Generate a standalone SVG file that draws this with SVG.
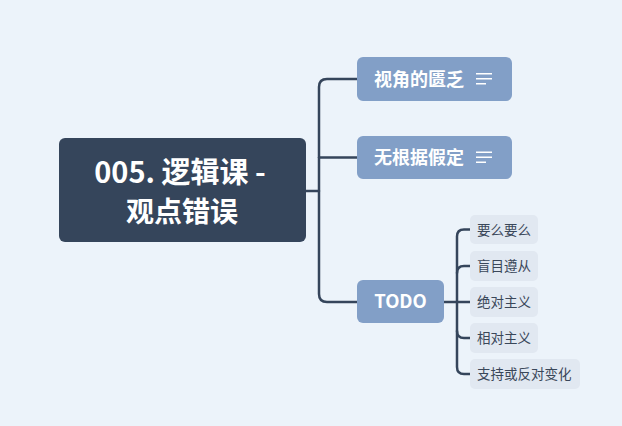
<svg xmlns="http://www.w3.org/2000/svg" width="622" height="426" viewBox="0 0 622 426">
<style>
.conn{fill:none;stroke:#35455B;stroke-width:2.5;stroke-linecap:round}
.root{fill:#35455B}
.main{fill:#829FC7}
.sub{fill:#E1E8F1}
.t1{font-family:"Noto Sans CJK SC","Noto Sans",sans-serif;font-weight:bold;fill:#FFFFFF}
.t2{font-family:"Noto Sans CJK SC","Noto Sans",sans-serif;fill:#3A4759;font-size:13.5px}
.icon{stroke:#FFFFFF;stroke-width:1.5;fill:none}
</style>
<rect width="622" height="426" fill="#ECF3FA"/>
<g id="connectors">
<path class="conn" d="M306,191 H319"/>
<path class="conn" d="M357,79 H327 Q319,79 319,87 V294 Q319,302 327,302 H357"/>
<path class="conn" d="M319,157.5 H357"/>
<path class="conn" d="M444,302 H457"/>
<path class="conn" d="M470,229.5 H464 Q457,229.5 457,236.5 V367 Q457,374 464,374 H470"/>
<path class="conn" d="M457,273 Q457,266 464,266 H470"/>
<path class="conn" d="M457,302 H470"/>
<path class="conn" d="M457,331 Q457,338 464,338 H470"/>
</g>
<g id="root">
<rect class="root" x="59" y="138" width="247" height="104" rx="6"/>
<text class="t1" x="180" y="183" font-size="29" text-anchor="middle">005. 逻辑课 -</text>
<text class="t1" x="182" y="222" font-size="28" text-anchor="middle">观点错误</text>
</g>
<g id="n1">
<rect class="main" x="357" y="57" width="155" height="44" rx="6"/>
<text class="t1" x="374" y="85.5" font-size="18">视角的匮乏</text>
<path class="icon" d="M476,73.7 H492 M476,78.7 H492 M476,83.7 H486"/>
</g>
<g id="n2">
<rect class="main" x="357" y="136" width="155" height="43" rx="6"/>
<text class="t1" x="374" y="164" font-size="18">无根据假定</text>
<path class="icon" d="M476,152.2 H492 M476,157.2 H492 M476,162.2 H486"/>
</g>
<g id="n3">
<rect class="main" x="357" y="280" width="87" height="43" rx="6"/>
<text class="t1" x="400.5" y="308" font-size="18.5" text-anchor="middle">TODO</text>
</g>
<g id="s1">
<rect class="sub" x="470" y="215" width="68" height="29" rx="5"/>
<text class="t2" x="477" y="234.5">要么要么</text>
</g>
<g id="s2">
<rect class="sub" x="470" y="251" width="68" height="30" rx="5"/>
<text class="t2" x="477" y="271">盲目遵从</text>
</g>
<g id="s3">
<rect class="sub" x="470" y="287" width="68" height="30" rx="5"/>
<text class="t2" x="477" y="307">绝对主义</text>
</g>
<g id="s4">
<rect class="sub" x="470" y="323" width="68" height="30" rx="5"/>
<text class="t2" x="477" y="343">相对主义</text>
</g>
<g id="s5">
<rect class="sub" x="470" y="359" width="110" height="30" rx="5"/>
<text class="t2" x="477" y="379">支持或反对变化</text>
</g>
</svg>
